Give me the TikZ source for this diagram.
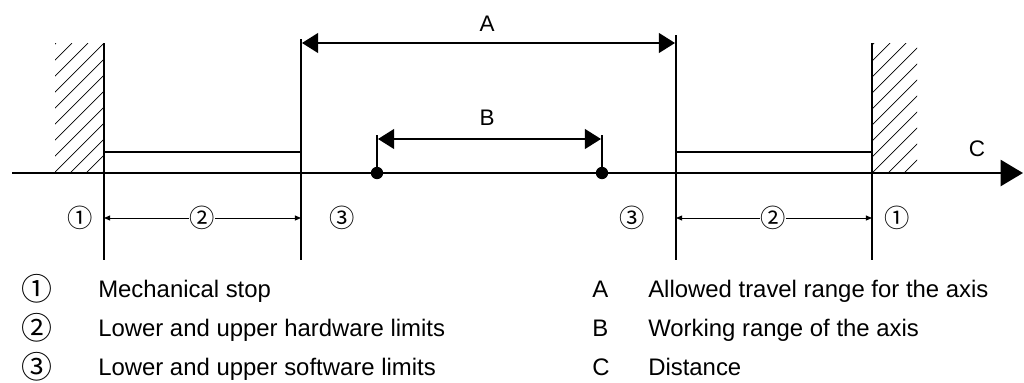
\documentclass[tikz,border=0pt]{standalone}
\usepackage{fontspec}
\setmainfont{Liberation Sans}
\newfontfamily\circfont{Noto Sans CJK SC}
\usetikzlibrary{arrows.meta}

\begin{document}
\begin{tikzpicture}[x=0.025cm,y=-0.025cm,
    axisline/.style={line width=2.1pt},
    stopline/.style={line width=1.3pt},
    limline/.style={line width=1pt},
    hatchline/.style={line width=0.5pt},
    bigarrow/.style={line width=1.3pt,{Triangle[length=11.4pt,width=14pt]}-{Triangle[length=11.4pt,width=14pt]}},
    dimarrow/.style={line width=0.7pt,-{Triangle[length=4.3pt,width=3.5pt]}},
    letter/.style={font=\fontsize{16}{19}\selectfont,anchor=base},
    circ/.style={font=\circfont\fontsize{18}{20}\selectfont,fill=white,inner sep=0pt},
    legcirc/.style={font=\circfont\fontsize{22}{24}\selectfont,inner sep=0pt},
    legtext/.style={font=\fontsize{17}{20}\selectfont,anchor=base west,inner sep=0pt}]

        \useasboundingbox (0,0) rectangle (1024,382);

        % Eje
        \coordinate (ax0) at (12,173);
        \coordinate (ax1) at (1023,173);
        \draw[axisline,-{Triangle[length=16pt,width=18.5pt]}] (ax0) -- (ax1);
        \node[letter] (lc) at (977,156) {C};

        % Topes mecánicos con rayado
        \begin{scope}
            \clip (55,43) rectangle (104,173);
            \foreach \c in {99,115,...,275}
                \draw[hatchline] (\c-173,173) -- (\c-43,43);
        \end{scope}
        \begin{scope}
            \clip (872,43) rectangle (917,173);
            \foreach \c in {917,933,...,1085}
                \draw[hatchline] (\c-173,173) -- (\c-43,43);
        \end{scope}

        \coordinate (mLt) at (104,43);
        \coordinate (mLb) at (104,260);
        \coordinate (mRt) at (872,43);
        \coordinate (mRb) at (872,260);
        \draw[stopline] (mLt) -- (mLb);
        \draw[stopline] (mRt) -- (mRb);

        % Límites de software
        \coordinate (sLt) at (301,39);
        \coordinate (sLb) at (301,260);
        \coordinate (sRt) at (676,35);
        \coordinate (sRb) at (676,260);
        \draw[stopline] (sLt) -- (sLb);
        \draw[stopline] (sRt) -- (sRb);

        % Límites de hardware
        \coordinate (hL1) at (104,152);
        \coordinate (hL2) at (301,152);
        \coordinate (hR1) at (676,152);
        \coordinate (hR2) at (872,152);
        \draw[limline] (hL1) -- (hL2);
        \draw[limline] (hR1) -- (hR2);

        % Rango A
        \coordinate (aL) at (302,43);
        \coordinate (aR) at (675,43);
        \draw[bigarrow] (aL) -- (aR);
        \node[letter] (la) at (487,31) {A};

        % Rango B
        \coordinate (bL) at (377,173);
        \coordinate (bR) at (602,173);
        \coordinate (bLt) at (377,135);
        \coordinate (bRt) at (602,135);
        \draw[stopline] (bL) -- (bLt);
        \draw[stopline] (bR) -- (bRt);
        \fill (bL) circle (4.4pt);
        \fill (bR) circle (4.4pt);
        \coordinate (bL2) at (378,139);
        \coordinate (bR2) at (601,139);
        \draw[bigarrow] (bL2) -- (bR2);
        \node[letter] (lb) at (487,125) {B};

        % Cotas inferiores
        \node[circ] (n1L) at (80,218) {①};
        \node[circ] (n2L) at (202,218) {②};
        \node[circ] (n3L) at (342,218) {③};
        \node[circ] (n3R) at (632,218) {③};
        \node[circ] (n2R) at (773,218) {②};
        \node[circ] (n1R) at (897,218) {①};
        \draw[dimarrow] (n2L) -- (mLb|-n2L);
        \draw[dimarrow] (n2L) -- (sLb|-n2L);
        \draw[dimarrow] (n2R) -- (sRb|-n2R);
        \draw[dimarrow] (n2R) -- (mRb|-n2R);

        % Leyenda
        \node[legcirc] (k1) at (37,289) {①};
        \node[legcirc] (k2) at (37,328) {②};
        \node[legcirc] (k3) at (37,367) {③};
        \node[legtext] (t1) at (98,297) {Mechanical stop};
        \node[legtext] (t2) at (98,336) {Lower and upper hardware limits};
        \node[legtext] (t3) at (98,375) {Lower and upper software limits};

        \node[legtext] (kA) at (592,297) {A};
        \node[legtext] (kB) at (592,336) {B};
        \node[legtext] (kC) at (592,375) {C};
        \node[legtext] (tA) at (648,297) {Allowed travel range for the axis};
        \node[legtext] (tB) at (648,336) {Working range of the axis};
        \node[legtext] (tC) at (648,375) {Distance};

    \end{tikzpicture}
\end{document}
